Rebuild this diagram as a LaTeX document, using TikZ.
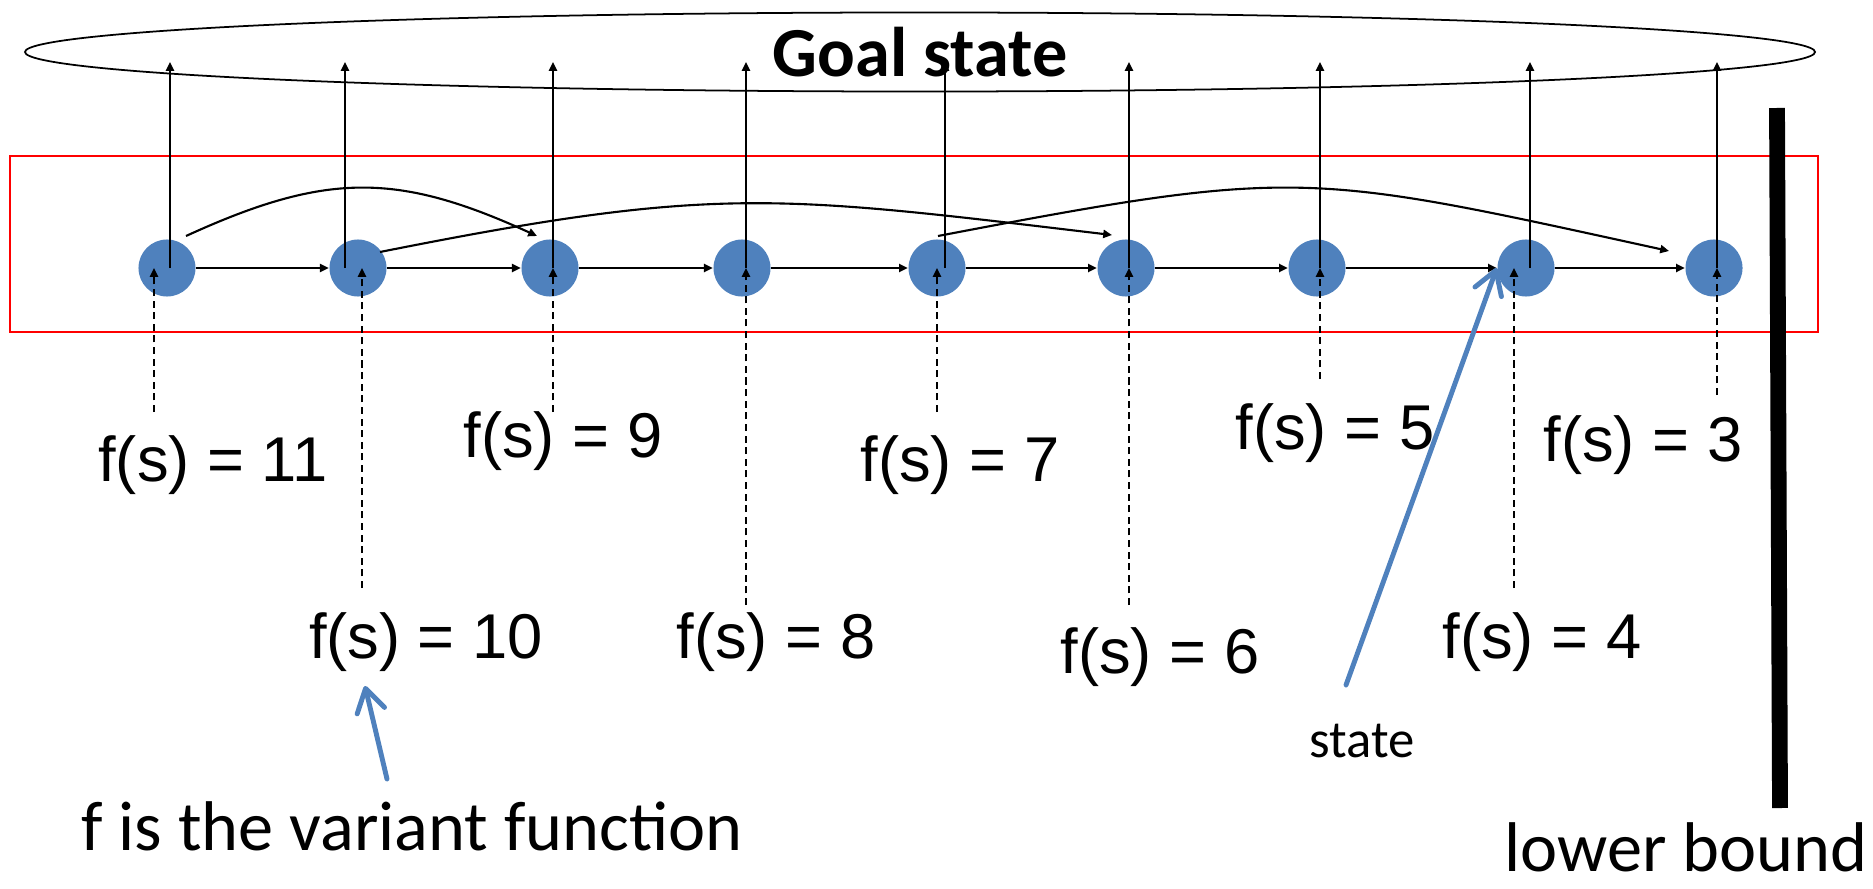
\documentclass[tikz,border=0pt]{standalone}
\usepackage{fontspec}
\setmainfont{Carlito}
\newfontfamily\arialfont{Liberation Sans}
\usetikzlibrary{shapes.geometric, arrows.meta}
\definecolor{stateblue}{HTML}{4F81BD}
\tikzset{
    dot/.style={circle, fill=stateblue, minimum size=0.57cm, inner sep=0pt},
    fval/.style={font=\arialfont\fontsize{18}{22}\selectfont},
    goalset/.style={draw, ellipse, line width=0.5pt, minimum width=17.89cm, minimum height=0.79cm, inner sep=0pt, font=\bfseries\fontsize{20}{24}\selectfont},
    note/.style={anchor=base, inner sep=0pt, font=\fontsize{20}{24}\selectfont},
    arrow/.style={-{Triangle[length=2.5pt, width=2.3pt]}, line width=0.6pt},
    rise/.style={-{Triangle[length=2.5pt, width=2.3pt]}, line width=0.5pt},
    probe/.style={-{Triangle[length=2.5pt, width=2.3pt]}, line width=0.55pt, dash pattern=on 2pt off 1.3pt},
    pointer/.style={-{Straight Barb[length=6.5pt, width=8pt, round]}, draw=stateblue, line width=1.4pt, line cap=round}
}

\begin{document}
\begin{tikzpicture}[x=0.01cm, y=-0.01cm]
\useasboundingbox (0,0) rectangle (1873,888);
\node[goalset] (goal) at (920,52) {Goal state};
\draw[red, line width=0.6pt] (10,156) rectangle (1818,332);

% states
\node[dot] (s11) at (167,268) {};
\node[dot] (s10) at (358,268) {};
\node[dot] (s9) at (550,268) {};
\node[dot] (s8) at (742,268) {};
\node[dot] (s7) at (937,268) {};
\node[dot] (s6) at (1126,268) {};
\node[dot] (s5) at (1317,268) {};
\node[dot] (s4) at (1526,268) {};
\node[dot] (s3) at (1714,268) {};

% variant values
\node[fval] (f11) at (213,465) {f(s) = 11};
\node[fval] (f10) at (426,642) {f(s) = 10};
\node[fval] (f9) at (563,441) {f(s) = 9};
\node[fval] (f8) at (776,642) {f(s) = 8};
\node[fval] (f7) at (960,465) {f(s) = 7};
\node[fval] (f6) at (1160,657) {f(s) = 6};
\node[fval] (f5) at (1335,433) {f(s) = 5};
\node[fval] (f4) at (1542,642) {f(s) = 4};
\node[fval] (f3) at (1643,445) {f(s) = 3};

\node[note] (variant) at (412,850) {f is the variant function};
\node[note, font=\fontsize{15}{18}\selectfont] (statetxt) at (1362,757) {state};
\node[note] (lower) at (1686,871) {lower bound};
\draw[line width=4.5pt] (1777,108) -- (1780,808);

% steps
\draw[arrow] (s11) -- (s10);
\draw[arrow] (s10) -- (s9);
\draw[arrow] (s9) -- (s8);
\draw[arrow] (s8) -- (s7);
\draw[arrow] (s7) -- (s6);
\draw[arrow] (s6) -- (s5);
\draw[arrow] (s5) -- (s4);
\draw[arrow] (s4) -- (s3);
\draw[arrow] ([shift={(19,-32)}]s11.center) .. controls +(140,-64) and +(-140,-64) .. ([shift={(-13,-32)}]s9.center);
\draw[arrow] ([shift={(22,-16)}]s10.center) .. controls +(336,-67) and +(-336,-40) .. ([shift={(-14,-33)}]s6.center);
\draw[arrow] ([shift={(1,-32)}]s7.center) .. controls +(361,-69) and +(-361,-79) .. ([shift={(-45,-17)}]s3.center);

% up to the goal
\draw[rise] ([shift={(3,0)}]s11.center) -- ([shift={(3,-206)}]s11.center);
\draw[rise] ([shift={(-13,0)}]s10.center) -- ([shift={(-13,-206)}]s10.center);
\draw[rise] ([shift={(3,0)}]s9.center) -- ([shift={(3,-206)}]s9.center);
\draw[rise] ([shift={(4,0)}]s8.center) -- ([shift={(4,-206)}]s8.center);
\draw[rise] ([shift={(8,0)}]s7.center) -- ([shift={(8,-206)}]s7.center);
\draw[rise] ([shift={(3,0)}]s6.center) -- ([shift={(3,-206)}]s6.center);
\draw[rise] ([shift={(3,0)}]s5.center) -- ([shift={(3,-206)}]s5.center);
\draw[rise] ([shift={(4,0)}]s4.center) -- ([shift={(4,-206)}]s4.center);
\draw[rise] ([shift={(3,0)}]s3.center) -- ([shift={(3,-206)}]s3.center);

% values into the states
\draw[probe] ([shift={(-13,144)}]s11.center) -- ([shift={(-13,0)}]s11.center);
\draw[probe] ([shift={(4,320)}]s10.center) -- ([shift={(4,0)}]s10.center);
\draw[probe] ([shift={(3,144)}]s9.center) -- ([shift={(3,0)}]s9.center);
\draw[probe] ([shift={(4,337)}]s8.center) -- ([shift={(4,0)}]s8.center);
\draw[probe] ([shift={(0,144)}]s7.center) -- ([shift={(0,0)}]s7.center);
\draw[probe] ([shift={(3,337)}]s6.center) -- ([shift={(3,0)}]s6.center);
\draw[probe] ([shift={(3,111)}]s5.center) -- ([shift={(3,0)}]s5.center);
\draw[probe] ([shift={(-12,320)}]s4.center) -- ([shift={(-12,0)}]s4.center);
\draw[probe] ([shift={(3,127)}]s3.center) -- ([shift={(3,0)}]s3.center);

% notes
\draw[pointer] ([shift={(-25,-71)}]variant.base) -- ([shift={(-61,44)}]f10.center);
\draw[pointer] ([shift={(-16,-72)}]statetxt.base) -- (s4.west);
\end{tikzpicture}
\end{document}
